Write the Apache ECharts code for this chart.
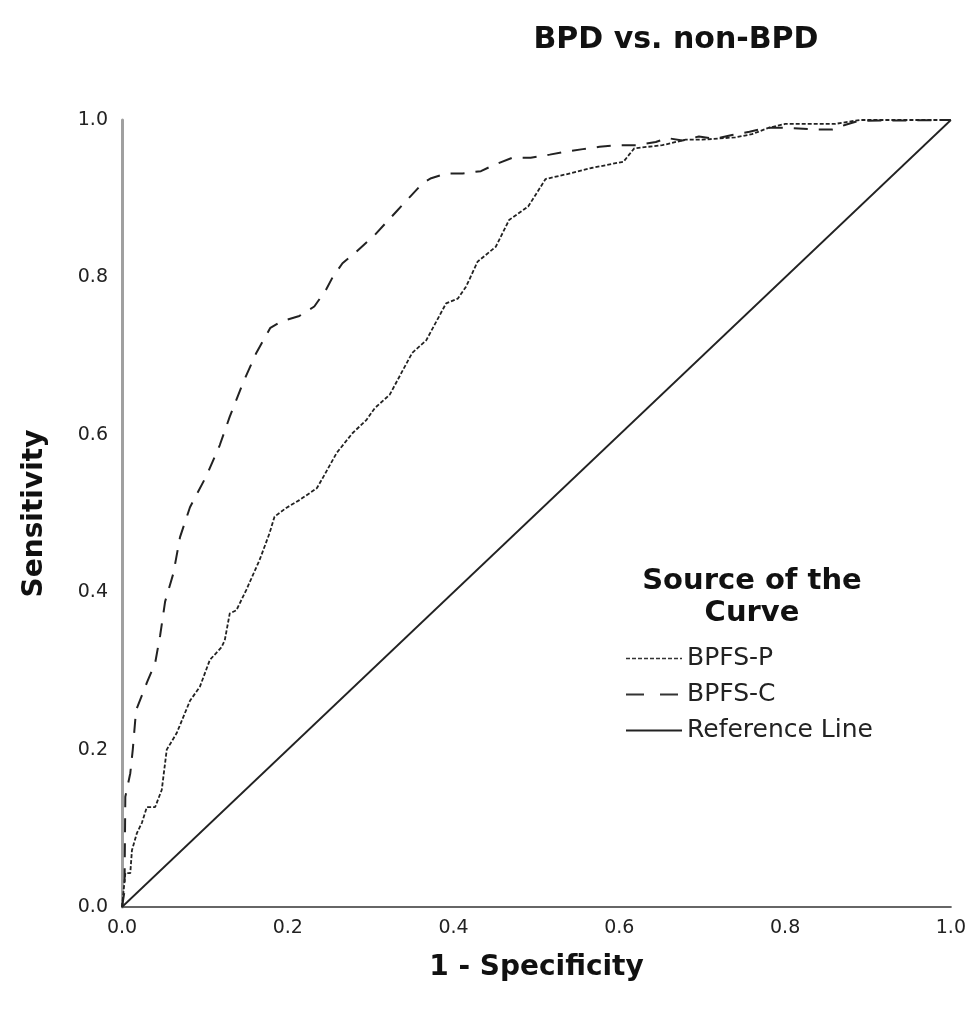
<!DOCTYPE html>
<html>
<head>
<meta charset="utf-8">
<script src="https://cdn.jsdelivr.net/npm/echarts@6/dist/echarts.min.js"></script>
<style>html,body{margin:0;padding:0;background:#fff;}#c{width:969px;height:1011px;}</style>
</head>
<body>
<div id="c"></div>
<script>
const titleText = 'BPD vs. non-BPD';
const xName = '1 - Specificity';
const yName = 'Sensitivity';
const legendTitle = 'Source of the\nCurve';
const seriesNames = ['BPFS-P', 'BPFS-C', 'Reference Line'];

const pX = [0, 0.004, 0.01, 0.012, 0.018, 0.024, 0.03, 0.04, 0.048, 0.054, 0.066, 0.082, 0.094, 0.106, 0.12, 0.124, 0.13, 0.138, 0.15, 0.166, 0.178, 0.184, 0.198, 0.214, 0.235, 0.241, 0.259, 0.278, 0.295, 0.305, 0.323, 0.35, 0.367, 0.391, 0.405, 0.415, 0.429, 0.451, 0.467, 0.49, 0.511, 0.536, 0.566, 0.605, 0.618, 0.652, 0.68, 0.7, 0.74, 0.76, 0.78, 0.8, 0.86, 0.89, 1.0];
const pY = [0, 0.043, 0.043, 0.072, 0.094, 0.107, 0.127, 0.127, 0.149, 0.2, 0.221, 0.262, 0.28, 0.314, 0.33, 0.339, 0.373, 0.377, 0.403, 0.441, 0.475, 0.496, 0.507, 0.517, 0.532, 0.543, 0.577, 0.602, 0.619, 0.634, 0.651, 0.704, 0.72, 0.767, 0.773, 0.788, 0.82, 0.839, 0.873, 0.89, 0.925, 0.931, 0.939, 0.947, 0.964, 0.968, 0.975, 0.975, 0.978, 0.982, 0.99, 0.995, 0.995, 1.0, 1.0];

const cX = [0, 0.003, 0.004, 0.01, 0.013, 0.017, 0.03, 0.04, 0.046, 0.052, 0.062, 0.07, 0.082, 0.102, 0.118, 0.13, 0.146, 0.162, 0.179, 0.192, 0.214, 0.232, 0.246, 0.254, 0.266, 0.283, 0.305, 0.333, 0.363, 0.373, 0.391, 0.411, 0.433, 0.449, 0.471, 0.493, 0.516, 0.536, 0.556, 0.576, 0.6, 0.62, 0.644, 0.658, 0.676, 0.696, 0.716, 0.736, 0.757, 0.777, 0.8, 0.837, 0.857, 0.873, 0.889, 1.0];
const cY = [0, 0.02, 0.14, 0.17, 0.2, 0.25, 0.285, 0.31, 0.345, 0.388, 0.424, 0.47, 0.508, 0.548, 0.587, 0.623, 0.666, 0.704, 0.736, 0.744, 0.751, 0.763, 0.784, 0.8, 0.818, 0.833, 0.854, 0.886, 0.92, 0.926, 0.932, 0.932, 0.935, 0.943, 0.952, 0.952, 0.956, 0.96, 0.963, 0.966, 0.968, 0.968, 0.972, 0.977, 0.974, 0.979, 0.976, 0.981, 0.985, 0.99, 0.99, 0.988, 0.988, 0.994, 0.999, 1.0];

const refX = [0, 1];
const refY = [0, 1];

const tickLabels = ['0.0', '0.2', '0.4', '0.6', '0.8', '1.0'];

function pairs(xs, ys) { return xs.map((x, i) => [x, ys[i]]); }

const chart = echarts.init(document.getElementById('c'), null, {renderer: 'canvas'});
const font = '"DejaVu Sans", "Liberation Sans", Arial, sans-serif';
const hidden = {color: 'rgba(0,0,0,0)', borderColor: 'rgba(0,0,0,0)', borderWidth: 0, opacity: 0};
chart.setOption({
  animation: false,
  backgroundColor: '#ffffff',
  textStyle: {fontFamily: font},
  title: [
    {text: titleText, left: 671, top: 20, textAlign: 'center',
     textStyle: {fontFamily: font, fontSize: 30, fontWeight: 'bold', color: '#111'}},
    {text: legendTitle, left: 747, top: 560, textAlign: 'center',
     textStyle: {fontFamily: font, fontSize: 29, fontWeight: 'bold', color: '#111', lineHeight: 32}}
  ],
  grid: {left: 122, right: 17, top: 120, bottom: 104, containLabel: false},
  legend: {
    data: [
      {name: seriesNames[0], itemStyle: hidden, lineStyle: {type: [4, 2], width: 1.6, color: '#333'}},
      {name: seriesNames[1], itemStyle: hidden, lineStyle: {type: [18, 16], width: 2, color: '#333'}},
      {name: seriesNames[2], itemStyle: hidden, lineStyle: {type: 'solid', width: 1.8, color: '#222'}}
    ],
    orient: 'vertical',
    left: 620, top: 641,
    itemWidth: 56, itemHeight: 25, itemGap: 11,
    itemStyle: hidden,
    textStyle: {fontFamily: font, fontSize: 25, color: '#222', padding: [0, 0, 0, 0]}
  },
  xAxis: {
    type: 'value', min: 0, max: 1, interval: 0.2,
    name: xName, nameLocation: 'middle', nameGap: 47,
    nameTextStyle: {fontFamily: font, fontSize: 28, fontWeight: 'bold', color: '#111'},
    axisLine: {show: true, lineStyle: {color: '#666', width: 2}},
    axisTick: {show: false},
    splitLine: {show: false},
    axisLabel: {fontFamily: font, fontSize: 19, color: '#222', margin: 12,
      formatter: v => tickLabels[Math.round(v / 0.2)]}
  },
  yAxis: {
    type: 'value', min: 0, max: 1, interval: 0.2,
    name: yName, nameLocation: 'middle', nameGap: 73,
    nameTextStyle: {fontFamily: font, fontSize: 28, fontWeight: 'bold', color: '#111'},
    axisLine: {show: true, lineStyle: {color: '#a0a0a0', width: 3}},
    axisTick: {show: false},
    splitLine: {show: false},
    axisLabel: {fontFamily: font, fontSize: 19, color: '#222', margin: 14,
      formatter: v => tickLabels[Math.round(v / 0.2)]}
  },
  series: [
    {name: seriesNames[0], type: 'line', data: pairs(pX, pY), symbol: 'none',
     lineStyle: {color: '#222', width: 1.8, type: [4, 2]}, itemStyle: {color: '#222'}},
    {name: seriesNames[1], type: 'line', data: pairs(cX, cY), symbol: 'none',
     lineStyle: {color: '#222', width: 2, type: [14, 11]}, itemStyle: {color: '#222'}},
    {name: seriesNames[2], type: 'line', data: pairs(refX, refY), symbol: 'none',
     lineStyle: {color: '#222', width: 1.8, type: 'solid'}, itemStyle: {color: '#222'}}
  ]
});
</script>
</body>
</html>
